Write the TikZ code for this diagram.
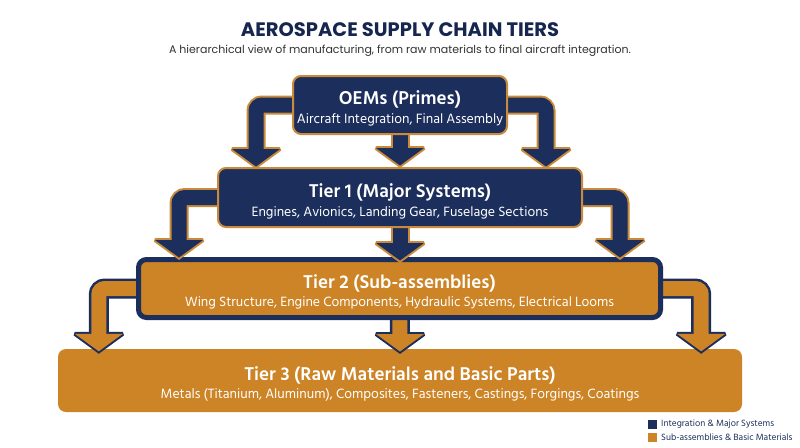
\documentclass[tikz,border=0pt]{standalone}
\usepackage{fontspec}
\setmainfont{Hind Siliguri}
\newfontfamily\titlefont{Poppins}
\usetikzlibrary{calc}
\definecolor{navy}{HTML}{1C2E5C}
\definecolor{titlenavy}{HTML}{16264F}
\definecolor{amber}{HTML}{CC8426}
\definecolor{gold}{HTML}{C98B3B}
\definecolor{subgray}{HTML}{333333}
\pgfdeclarelayer{paper}
\pgfdeclarelayer{boxthree}
\pgfdeclarelayer{arrtwo}
\pgfdeclarelayer{boxtwo}
\pgfdeclarelayer{arrone}
\pgfdeclarelayer{boxone}
\pgfdeclarelayer{arrzero}
\pgfsetlayers{paper,boxthree,arrtwo,boxtwo,arrone,boxone,arrzero,main}
% #1 start, #2 tip coordinate, #3 fill, #4 border, #5 path operator, #6 outer shaft width
\newcommand\TierArrow[6]{%
  \path[draw=#4, line width=#6, rounded corners=6pt] (#1) #5 ($(#2)+(0,-17)$);
  \path[draw=#4, fill=#4, line width=4pt, line join=miter, miter limit=3]
    ($(#2)+(-24,-19)$) -- ($(#2)+(24,-19)$) -- ($(#2)+(0,-1.5)$) -- cycle;
  \path[draw=#3, line width=15pt, rounded corners=6pt] (#1) #5 ($(#2)+(0,-17)$);
  \path[fill=#3] ($(#2)+(-24,-19)$) -- ($(#2)+(24,-19)$) -- ($(#2)+(0,-1.5)$) -- cycle;}
\tikzset{
  x=1pt, y=-1pt,
  navybox/.style={draw=gold, line width=2pt, fill=navy, rounded corners=8pt, text=white, align=center, inner sep=0pt},
  amberbox/.style={fill=amber, rounded corners=8pt, text=white, align=center, inner sep=0pt},
  legsq/.style={minimum width=9pt, minimum height=9pt, inner sep=0pt},
  legtext/.style={anchor=west, inner sep=0pt, font=\fontsize{9.3}{11}\selectfont, text=navy}
}
\newcommand\Sub[1]{{\fontsize{13.8}{15}\selectfont #1}}
\newcommand\Ttl[1]{{\bfseries\fontsize{19}{20}\selectfont\rule{0pt}{21pt}#1}}
\begin{document}
\begin{tikzpicture}
\useasboundingbox (0,0) rectangle (800,447);
\begin{pgfonlayer}{paper}
\fill[white] (0,0) rectangle (800,447);
\end{pgfonlayer}

\node[font=\titlefont\bfseries\fontsize{19.5}{22}\selectfont, text=titlenavy] (title) at (400,30) {AEROSPACE SUPPLY CHAIN TIERS};
\node[font=\titlefont\fontsize{11}{13}\selectfont, text=subgray] (subtitle) at (400,51) {A hierarchical view of manufacturing, from raw materials to final aircraft integration.};

\node[navybox, minimum width=214pt, minimum height=58pt] (oem) at (400,105)
  {\Ttl{OEMs (Primes)}\\[4pt]\Sub{Aircraft Integration, Final Assembly}};
\begin{pgfonlayer}{boxone}
\node[navybox, minimum width=364pt, minimum height=59pt] (t1) at (400,197.5)
  {\Ttl{Tier 1 (Major Systems)}\\[4pt]\Sub{Engines, Avionics, Landing Gear, Fuselage Sections}};
\end{pgfonlayer}
\begin{pgfonlayer}{boxtwo}
\node[amberbox, draw=navy, line width=5pt, minimum width=522pt, minimum height=58pt] (t2) at (399.5,288.5)
  {\Ttl{Tier 2 (Sub-assemblies)}\\[4pt]\Sub{Wing Structure, Engine Components, Hydraulic Systems, Electrical Looms}};
\end{pgfonlayer}
\begin{pgfonlayer}{boxthree}
\node[amberbox, minimum width=684pt, minimum height=63pt] (t3) at (400,380.5)
  {\Ttl{Tier 3 (Raw Materials and Basic Parts)}\\[4pt]\Sub{Metals (Titanium, Aluminum), Composites, Fasteners, Castings, Forgings, Coatings}};
\end{pgfonlayer}

% tips
\coordinate (a1) at ($(t1.north west)+(39,1)$);
\coordinate (a2) at ($(oem.south)+(0,32)$);
\coordinate (a3) at ($(t1.north east)+(-37,1)$);
\coordinate (b1) at ($(t2.north west)+(43,2)$);
\coordinate (b2) at ($(t1.south)+(0,34)$);
\coordinate (b3) at ($(t2.north east)+(-43,2)$);
\coordinate (c1) at ($(t3.north west)+(41,4)$);
\coordinate (c2) at ($(t2.south)+(0.5,33)$);
\coordinate (c3) at ($(t3.north east)+(-41,4)$);

\begin{pgfonlayer}{arrzero}
\TierArrow{oem.center}{a1}{navy}{gold}{-|}{19pt}
\TierArrow{oem.center}{a2}{navy}{gold}{--}{19pt}
\TierArrow{oem.center}{a3}{navy}{gold}{-|}{19pt}
\end{pgfonlayer}
\begin{pgfonlayer}{arrone}
\TierArrow{t1.center}{b1}{navy}{gold}{-|}{19pt}
\TierArrow{t1.center}{b2}{navy}{gold}{--}{19pt}
\TierArrow{t1.center}{b3}{navy}{gold}{-|}{19pt}
\end{pgfonlayer}
\begin{pgfonlayer}{arrtwo}
\TierArrow{t2.center}{c1}{amber}{navy}{-|}{20pt}
\TierArrow{t2.center}{c2}{amber}{navy}{--}{20pt}
\TierArrow{t2.center}{c3}{amber}{navy}{-|}{20pt}
\end{pgfonlayer}

% legend
\node[legsq, fill=navy] (lg1) at (652.5,424.5) {};
\node[legsq, fill=amber] (lg2) at (652.5,437.5) {};
\node[legtext] (lt1) at (661,424.5) {Integration \& Major Systems};
\node[legtext] (lt2) at (661,437.5) {Sub-assemblies \& Basic Materials};
\end{tikzpicture}
\end{document}
